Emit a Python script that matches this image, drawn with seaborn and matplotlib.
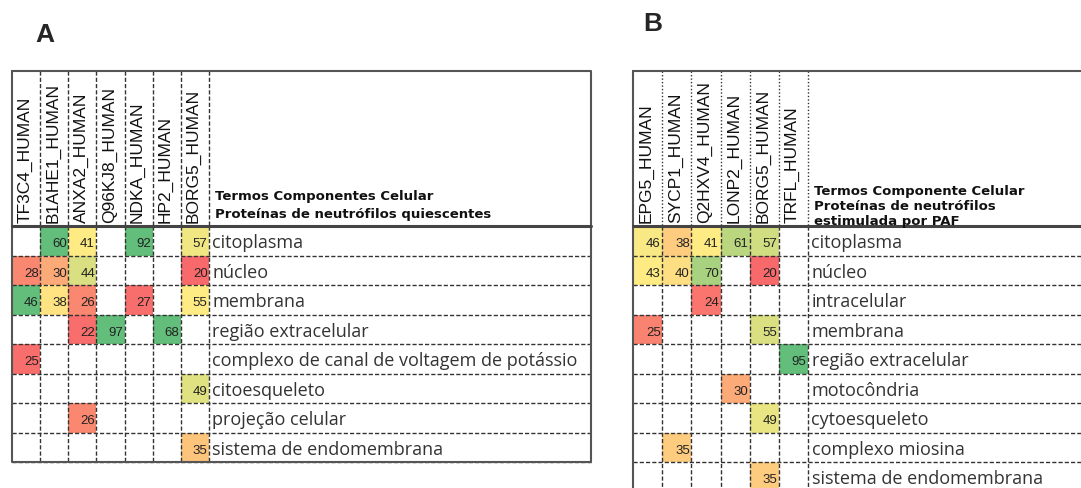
import numpy as np
import pandas as pd
import matplotlib
matplotlib.use("Agg")
import matplotlib.pyplot as plt
from matplotlib.colors import LinearSegmentedColormap
import seaborn as sns

sns.set_theme(style="white")
plt.rcParams['font.family'] = ['Liberation Sans', 'DejaVu Sans']

nan = np.nan

# Painel A - neutrófilos quiescentes
proteinas_A = ["TF3C4_HUMAN", "B1AHE1_HUMAN", "ANXA2_HUMAN", "Q96KJ8_HUMAN",
               "NDKA_HUMAN", "HP2_HUMAN", "BORG5_HUMAN"]
termos_A = ["citoplasma", "núcleo", "membrana", "região extracelular",
            "complexo de canal de voltagem de potássio", "citoesqueleto",
            "projeção celular", "sistema de endomembrana"]
valores_A = [
    [nan, 60, 41, nan, 92, nan, 57],
    [28, 30, 44, nan, nan, nan, 20],
    [46, 38, 26, nan, 27, nan, 55],
    [nan, nan, 22, 97, nan, 68, nan],
    [25, nan, nan, nan, nan, nan, nan],
    [nan, nan, nan, nan, nan, nan, 49],
    [nan, nan, 26, nan, nan, nan, nan],
    [nan, nan, nan, nan, nan, nan, 35],
]
# posição da cor na escala (0 vermelho, 0.5 amarelo, 1 verde)
cor_A = [
    [nan, 1.0, 0.50, nan, 1.0, nan, 0.55],
    [0.12, 0.25, 0.62, nan, nan, nan, 0.0],
    [1.0, 0.47, 0.12, nan, 0.02, nan, 0.50],
    [nan, nan, 0.02, 1.0, nan, 1.0, nan],
    [0.02, nan, nan, nan, nan, nan, nan],
    [nan, nan, nan, nan, nan, nan, 0.60],
    [nan, nan, 0.12, nan, nan, nan, nan],
    [nan, nan, nan, nan, nan, nan, 0.35],
]
titulo_A = "Termos Componentes Celular\nProteínas de neutrófilos quiescentes"

# Painel B - neutrófilos estimulados por PAF
proteinas_B = ["EPG5_HUMAN", "SYCP1_HUMAN", "Q2HXV4_HUMAN", "LONP2_HUMAN",
               "BORG5_HUMAN", "TRFL_HUMAN"]
termos_B = ["citoplasma", "núcleo", "intracelular", "membrana",
            "região extracelular", "motocôndria", "cytoesqueleto",
            "complexo miosina", "sistema de endomembrana"]
valores_B = [
    [46, 38, 41, 61, 57, nan],
    [43, 40, 70, nan, 20, nan],
    [nan, nan, 24, nan, nan, nan],
    [25, nan, nan, nan, 55, nan],
    [nan, nan, nan, nan, nan, 95],
    [nan, nan, nan, 30, nan, nan],
    [nan, nan, nan, nan, 49, nan],
    [nan, 35, nan, nan, nan, nan],
    [nan, nan, nan, nan, 35, nan],
]
cor_B = [
    [0.52, 0.38, 0.50, 0.72, 0.65, nan],
    [0.50, 0.45, 0.78, nan, 0.0, nan],
    [nan, nan, 0.05, nan, nan, nan],
    [0.10, nan, nan, nan, 0.62, nan],
    [nan, nan, nan, nan, nan, 1.0],
    [nan, nan, nan, 0.25, nan, nan],
    [nan, nan, nan, nan, 0.57, nan],
    [nan, 0.38, nan, nan, nan, nan],
    [nan, nan, nan, nan, 0.38, nan],
]
titulo_B = "Termos Componente Celular\nProteínas de neutrófilos\nestimulada por PAF"

escala = LinearSegmentedColormap.from_list("excel", ["#F8696B", "#FFEB84", "#63BE7B"])

W, H = 1081, 489
fig = plt.figure(figsize=(W / 100, H / 100), dpi=100, facecolor="white")


def painel(rect, proteinas, termos, valores, cor, titulo, lab_w, hdr, header_ls, spacing, ty):
    ax = fig.add_axes(rect)
    nrows, ncols = len(termos), len(proteinas)
    df = pd.DataFrame(cor, index=termos, columns=proteinas)
    sns.heatmap(df, ax=ax, cmap=escala, vmin=0, vmax=1, cbar=False,
                annot=np.array(valores, dtype=float), fmt=".0f",
                annot_kws=dict(fontsize=9.5, color="#222222", ha="right"),
                xticklabels=False, yticklabels=False)
    # numbers are right aligned in the cells
    for t in ax.texts:
        x, y = t.get_position()
        t.set_position((x + 0.45, y + 0.08))
    right = ncols + lab_w
    ax.set_xlim(0, right)
    ax.set_ylim(nrows, -hdr)
    ax.set_xticks([])
    ax.set_yticks([])

    for i in range(1, nrows + 1):
        ax.plot([0, right], [i, i], color="#333333", lw=1, ls=(0, (3, 1.5)), clip_on=False)
    for j in range(1, ncols + 1):
        ax.plot([j, j], [0, nrows], color="#333333", lw=1, ls=(0, (3, 1.5)), clip_on=False)
        ax.plot([j, j], [-hdr, 0], color="#333333", lw=1, ls=header_ls, clip_on=False)
    ax.plot([0, right, right, 0, 0], [-hdr, -hdr, nrows, nrows, -hdr],
            color="#555555", lw=1.5, clip_on=False)
    ax.plot([0, right], [0, 0], color="#444444", lw=2.2, clip_on=False)

    for j, p in enumerate(proteinas):
        ax.text(j + 0.45, -0.12, p, rotation=90, ha="center", va="bottom",
                fontsize=12.5, color="#111111")
    ax.text(ncols + 0.2, ty, titulo, ha="left", va="bottom", fontsize=9.5,
            fontweight="bold", linespacing=spacing, color="#111111",
            family=["DejaVu Sans"])
    for i, termo in enumerate(termos):
        ax.text(ncols + 0.12, i + 0.55, termo, ha="left", va="center",
                fontsize=13, family=["Open Sans", "DejaVu Sans"], color="#333333")
    return ax


# painel A: x 12..591, y 72..463 px
cw_A = (209 - 12) / 7
painel([12 / W, 1 - 463 / H, 579 / W, 391 / H], proteinas_A, termos_A, valores_A,
       cor_A, titulo_A, (591 - 209) / cw_A, 155 / 29.5, (0, (3, 1.5)), 1.45, -0.22)

# painel B: x 633.., y 72..492 px (cortado na borda)
cw_B = (808 - 633) / 6
painel([633 / W, 1 - 492.5 / H, (175 + 10 * cw_B) / W, 420.5 / H], proteinas_B,
       termos_B, valores_B, cor_B, titulo_B, 10, 155 / 29.5, (0, (1, 1.5)), 1.2, 0.04)

fig.text(45 / W, 1 - 35 / H, "A", fontsize=19, fontweight="bold", ha="center", va="center")
fig.text(653 / W, 1 - 24 / H, "B", fontsize=19, fontweight="bold", ha="center", va="center")

fig.savefig("out.png", dpi=100, facecolor="white")
